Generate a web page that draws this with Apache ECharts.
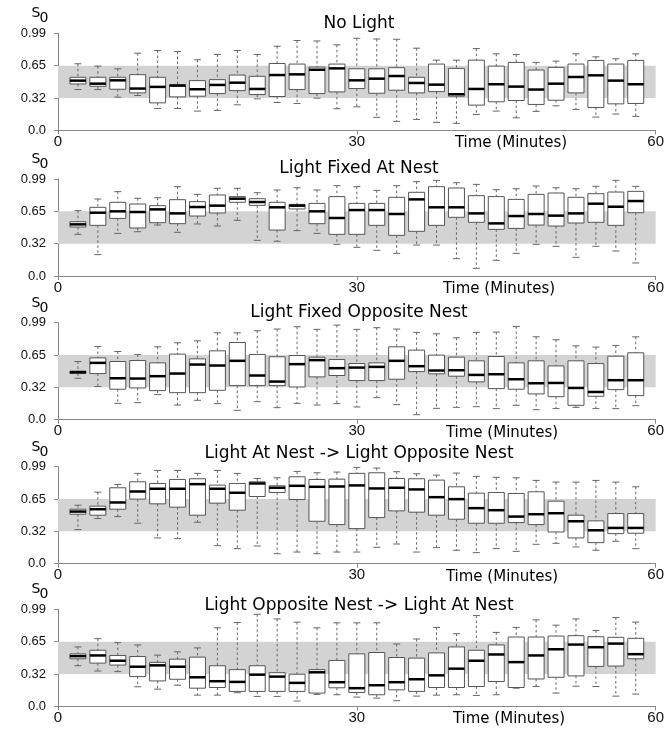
<!DOCTYPE html>
<html>
<head>
<meta charset="utf-8">
<script src="https://cdn.jsdelivr.net/npm/echarts@6/dist/echarts.min.js"></script>
<style>html,body{margin:0;padding:0;background:#fff}#c{width:667px;height:732px}</style>
</head>
<body>
<div id="c"></div>
<script>
// ---- data ----
const times = [2,4,6,8,10,12,14,16,18,20,22,24,26,28,30,32,34,36,38,40,42,44,46,48,50,52,54,56,58];
const panelTitles = ['No Light', 'Light Fixed At Nest', 'Light Fixed Opposite Nest',
  'Light At Nest -> Light Opposite Nest', 'Light Opposite Nest -> Light At Nest'];
const yTickLabels = ['0.0', '0.32', '0.65', '0.99'];
const xTickLabels = ['0', '30', '60'];
const xAxisTitle = 'Time (Minutes)';
const bandRange = [0.33, 0.66];
// each entry: [min, Q1, median, Q3, max]
const noLight = [
  [0.416,0.473,0.507,0.541,0.679],[0.416,0.449,0.476,0.541,0.655],[0.338,0.419,0.510,0.541,0.628],
  [0.355,0.382,0.426,0.568,0.787],[0.223,0.280,0.443,0.541,0.814],[0.223,0.341,0.456,0.466,0.804],
  [0.196,0.348,0.419,0.507,0.720],[0.203,0.375,0.463,0.517,0.774],[0.260,0.405,0.486,0.564,0.814],
  [0.321,0.365,0.422,0.551,0.774],[0.284,0.345,0.564,0.682,0.858],[0.274,0.416,0.571,0.676,0.916],
  [0.328,0.375,0.618,0.645,0.912],[0.220,0.392,0.632,0.676,0.872],[0.240,0.426,0.510,0.628,0.939],
  [0.132,0.378,0.527,0.628,0.932],[0.091,0.409,0.554,0.639,0.929],[0.111,0.382,0.483,0.541,0.838],
  [0.081,0.395,0.466,0.676,0.716],[0.071,0.348,0.368,0.632,0.716],[0.162,0.257,0.422,0.716,0.834],
  [0.196,0.291,0.470,0.655,0.780],[0.128,0.304,0.446,0.693,0.774],[0.193,0.264,0.416,0.615,0.693],
  [0.250,0.307,0.476,0.642,0.706],[0.213,0.382,0.544,0.676,0.780],[0.135,0.233,0.561,0.713,0.750],
  [0.166,0.270,0.507,0.676,0.730],[0.142,0.274,0.470,0.713,0.780]
];
const fixedAtNest = [
  [0.425,0.500,0.527,0.554,0.667],[0.218,0.517,0.646,0.701,0.786],[0.435,0.588,0.660,0.752,0.861],
  [0.452,0.490,0.653,0.735,0.793],[0.520,0.544,0.680,0.718,0.799],[0.446,0.534,0.639,0.779,0.912],
  [0.531,0.612,0.704,0.759,0.833],[0.510,0.643,0.718,0.827,0.895],[0.568,0.752,0.789,0.810,0.895],
  [0.364,0.721,0.755,0.789,0.850],[0.354,0.469,0.701,0.752,0.878],[0.463,0.684,0.718,0.731,0.901],
  [0.435,0.534,0.660,0.741,0.878],[0.323,0.425,0.592,0.810,0.922],[0.293,0.425,0.673,0.741,0.912],
  [0.262,0.517,0.673,0.741,0.874],[0.231,0.415,0.633,0.803,0.922],[0.316,0.456,0.782,0.854,0.963],
  [0.316,0.517,0.701,0.912,0.976],[0.177,0.599,0.701,0.898,0.952],[0.078,0.548,0.639,0.820,0.935],
  [0.160,0.476,0.537,0.810,0.881],[0.231,0.486,0.612,0.782,0.891],[0.323,0.520,0.633,0.833,0.918],
  [0.303,0.510,0.616,0.847,0.901],[0.190,0.541,0.639,0.803,0.891],[0.303,0.548,0.738,0.840,0.915],
  [0.255,0.517,0.707,0.857,0.976],[0.133,0.646,0.765,0.864,0.915]
];
const fixedOpposite = [
  [0.423,0.471,0.485,0.495,0.594],[0.338,0.471,0.580,0.631,0.747],[0.167,0.311,0.423,0.594,0.696],
  [0.174,0.324,0.420,0.604,0.666],[0.256,0.297,0.444,0.580,0.744],[0.150,0.276,0.471,0.669,0.785],
  [0.198,0.276,0.563,0.621,0.805],[0.164,0.300,0.553,0.703,0.887],[0.096,0.348,0.601,0.788,0.887],
  [0.184,0.348,0.451,0.666,0.908],[0.123,0.348,0.389,0.642,0.925],[0.167,0.334,0.567,0.655,0.949],
  [0.150,0.437,0.608,0.638,0.922],[0.164,0.451,0.526,0.614,0.966],[0.130,0.399,0.532,0.573,0.922],
  [0.225,0.399,0.539,0.580,0.939],[0.154,0.413,0.601,0.744,0.925],[0.051,0.491,0.546,0.710,0.891],
  [0.116,0.468,0.502,0.659,0.877],[0.126,0.444,0.505,0.638,0.836],[0.133,0.386,0.457,0.601,0.891],
  [0.113,0.317,0.464,0.645,0.894],[0.147,0.311,0.413,0.580,0.952],[0.102,0.263,0.372,0.601,0.846],
  [0.113,0.235,0.375,0.549,0.816],[0.126,0.147,0.324,0.601,0.754],[0.113,0.239,0.283,0.573,0.741],
  [0.113,0.307,0.403,0.648,0.758],[0.143,0.246,0.403,0.683,0.846]
];
const atNestToOpposite = [
  [0.348,0.505,0.532,0.556,0.597],[0.461,0.495,0.556,0.587,0.730],[0.481,0.556,0.625,0.775,0.809],
  [0.413,0.659,0.737,0.836,0.922],[0.263,0.611,0.765,0.819,0.952],[0.256,0.577,0.765,0.860,0.952],
  [0.423,0.495,0.812,0.867,0.922],[0.184,0.618,0.765,0.802,0.952],[0.154,0.546,0.724,0.819,0.922],
  [0.181,0.686,0.819,0.836,0.870],[0.102,0.727,0.775,0.795,0.877],[0.119,0.655,0.795,0.887,0.942],
  [0.102,0.433,0.785,0.860,0.928],[0.119,0.399,0.788,0.863,0.935],[0.119,0.358,0.799,0.922,0.983],
  [0.167,0.471,0.768,0.928,0.976],[0.201,0.539,0.775,0.870,0.939],[0.119,0.526,0.758,0.867,0.918],
  [0.164,0.495,0.679,0.853,0.904],[0.137,0.454,0.659,0.785,0.925],[0.113,0.413,0.567,0.720,0.891],
  [0.154,0.413,0.546,0.727,0.881],[0.126,0.420,0.481,0.717,0.877],[0.198,0.399,0.505,0.734,0.850],
  [0.208,0.324,0.515,0.638,0.833],[0.171,0.263,0.433,0.495,0.833],[0.137,0.215,0.341,0.437,0.850],
  [0.229,0.307,0.365,0.512,0.833],[0.154,0.311,0.365,0.512,0.785]
];
const oppositeToAtNest = [
  [0.414,0.485,0.512,0.535,0.606],[0.360,0.441,0.519,0.572,0.690],[0.354,0.421,0.465,0.519,0.650],
  [0.199,0.303,0.404,0.508,0.626],[0.175,0.259,0.418,0.448,0.522],[0.215,0.276,0.404,0.481,0.556],
  [0.114,0.185,0.296,0.502,0.596],[0.114,0.192,0.256,0.414,0.801],[0.138,0.152,0.249,0.374,0.855],
  [0.101,0.152,0.323,0.414,0.939],[0.101,0.152,0.303,0.343,0.892],[0.054,0.152,0.239,0.327,0.859],
  [0.121,0.135,0.347,0.374,0.801],[0.118,0.189,0.246,0.468,0.852],[0.094,0.141,0.185,0.535,0.852],
  [0.084,0.118,0.215,0.549,0.852],[0.057,0.168,0.246,0.498,0.636],[0.104,0.152,0.276,0.492,0.687],
  [0.114,0.192,0.316,0.545,0.805],[0.118,0.192,0.384,0.606,0.741],[0.111,0.202,0.465,0.572,0.926],
  [0.118,0.253,0.529,0.626,0.754],[0.185,0.192,0.451,0.707,0.805],[0.202,0.279,0.519,0.707,0.882],
  [0.135,0.296,0.582,0.717,0.828],[0.205,0.310,0.630,0.721,0.892],[0.202,0.407,0.603,0.710,0.774],
  [0.104,0.411,0.640,0.704,0.906],[0.125,0.485,0.532,0.694,0.859]
];
const panels = [noLight, fixedAtNest, fixedOpposite, atNestToOpposite, oppositeToAtNest];

// ---- layout ----
const gridTops = [33.3, 179, 322.7, 466.7, 609.3];
const gridH = 97;
const gridLeft = 58, gridW = 600;
const titleY = [23.7, 168.3, 312.5, 453.3, 605.8];
const xTitleX = [511, 499, 502, 502, 509];

const chart = echarts.init(document.getElementById('c'), null, {renderer: 'canvas'});

const grids = [], xAxes = [], yAxes = [], series = [], graphics = [];
panels.forEach((pd, i) => {
  grids.push({left: gridLeft, top: gridTops[i], width: gridW, height: gridH});
  xAxes.push({
    gridIndex: i, type: 'value', min: 0, max: 60, interval: 30, offset: 3,
    axisLine: {show: true, lineStyle: {color: '#888', width: 1}},
    axisTick: {show: true, length: 4, lineStyle: {color: '#888'}},
    splitLine: {show: false},
    axisLabel: {margin: 1, fontFamily: 'Liberation Sans', fontSize: 15, color: '#111',
      formatter: v => xTickLabels[Math.round(v / 30)]}
  });
  yAxes.push({
    gridIndex: i, type: 'value', min: 0, max: 0.99, interval: 0.33, offset: 6,
    axisLine: {show: true, lineStyle: {color: '#888', width: 1}},
    axisTick: {show: true, length: 4, lineStyle: {color: '#888'}},
    splitLine: {show: false},
    axisLabel: {margin: 6, fontFamily: 'Liberation Sans', fontSize: 13, color: '#111',
      formatter: v => yTickLabels[Math.round(v / 0.33)]}
  });
  series.push({
    type: 'custom', xAxisIndex: i, yAxisIndex: i, z: 1, silent: true,
    data: [[0, 60, bandRange[0], bandRange[1]]],
    renderItem: (params, api) => {
      const a = api.coord([api.value(0), api.value(3)]);
      const b = api.coord([api.value(1), api.value(2)]);
      return {type: 'rect', shape: {x: a[0], y: a[1], width: b[0] - a[0], height: b[1] - a[1]},
        style: {fill: '#d3d3d3'}};
    }
  });
  series.push({
    type: 'custom', xAxisIndex: i, yAxisIndex: i, z: 2, silent: true,
    encode: {x: 0, y: [1, 2, 3, 4, 5]},
    data: pd.map((d, k) => [times[k]].concat(d)),
    renderItem: (params, api) => {
      const t = api.value(0);
      const pLo = api.coord([t, api.value(1)]);
      const pQ1 = api.coord([t, api.value(2)]);
      const pMed = api.coord([t, api.value(3)]);
      const pQ3 = api.coord([t, api.value(4)]);
      const pHi = api.coord([t, api.value(5)]);
      const x = pMed[0], hw = 8, cw = 3.5;
      const gray = '#666';
      return {type: 'group', children: [
        {type: 'line', shape: {x1: x, y1: pHi[1], x2: x, y2: pQ3[1]}, style: {stroke: gray, lineWidth: 1, lineDash: [2.5, 2.5]}},
        {type: 'line', shape: {x1: x, y1: pQ1[1], x2: x, y2: pLo[1]}, style: {stroke: gray, lineWidth: 1, lineDash: [2.5, 2.5]}},
        {type: 'line', shape: {x1: x - cw, y1: pHi[1], x2: x + cw, y2: pHi[1]}, style: {stroke: gray, lineWidth: 1}},
        {type: 'line', shape: {x1: x - cw, y1: pLo[1], x2: x + cw, y2: pLo[1]}, style: {stroke: gray, lineWidth: 1}},
        {type: 'rect', shape: {x: x - hw, y: pQ3[1], width: 2 * hw, height: pQ1[1] - pQ3[1]}, style: {fill: '#fff', stroke: '#555', lineWidth: 1}},
        {type: 'line', shape: {x1: x - hw, y1: pMed[1], x2: x + hw, y2: pMed[1]}, style: {stroke: '#000', lineWidth: 2.5}}
      ]};
    }
  });
  graphics.push({type: 'text', x: 359, y: titleY[i], style: {text: panelTitles[i], font: '17px "DejaVu Sans"', fill: '#000', textAlign: 'center', textVerticalAlign: 'middle'}});
  graphics.push({type: 'text', x: 31.5, y: gridTops[i] - 19.5, style: {text: 'S', font: '14px "DejaVu Sans"', fill: '#000', textAlign: 'left', textVerticalAlign: 'middle'}});
  graphics.push({type: 'text', x: 39.5, y: gridTops[i] - 14.5, style: {text: '0', font: '14px "DejaVu Sans"', fill: '#000', textAlign: 'left', textVerticalAlign: 'middle'}});
  graphics.push({type: 'text', x: xTitleX[i], y: gridTops[i] + gridH + 13, style: {text: xAxisTitle, font: '15px "DejaVu Sans"', fill: '#000', textAlign: 'center', textVerticalAlign: 'middle'}});
});

chart.setOption({
  animation: false,
  backgroundColor: '#fff',
  grid: grids, xAxis: xAxes, yAxis: yAxes, series: series,
  graphic: graphics
});
</script>
</body>
</html>
